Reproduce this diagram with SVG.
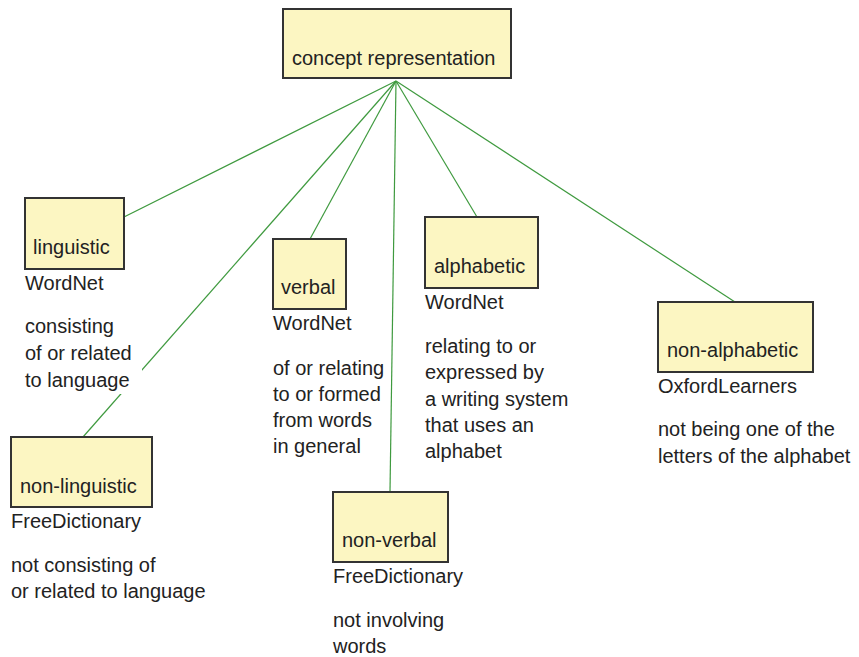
<svg xmlns="http://www.w3.org/2000/svg" width="859" height="657" viewBox="0 0 859 657">
<style>
.box{fill:#fcf6c2;stroke:#333;stroke-width:2}
text{font-family:"Liberation Sans",Arial,sans-serif;font-size:20px;fill:#222}
.edge{stroke:#3f9a3f;stroke-width:1.2;fill:none}
.bg{fill:#fff}
</style>
<rect width="859" height="657" fill="#fff"/>
<g id="connectors">
<line class="edge" x1="396" y1="81" x2="124" y2="217"/>
<line class="edge" x1="396" y1="81" x2="83" y2="437"/>
<line class="edge" x1="396" y1="81" x2="310" y2="239"/>
<line class="edge" x1="396" y1="81" x2="390" y2="492"/>
<line class="edge" x1="396" y1="81" x2="477" y2="217"/>
<line class="edge" x1="396" y1="81" x2="735" y2="302"/>
</g>
<g id="concept">
<rect class="box" x="283" y="9" width="228" height="69"/>
<text x="292" y="65">concept representation</text>
</g>
<g id="linguistic">
<rect class="box" x="25" y="198" width="99" height="71"/>
<text x="33" y="254">linguistic</text>
<rect class="bg" x="22" y="312" width="120" height="82"/>
<text x="25" y="290">WordNet</text>
<text x="25" y="333">consisting</text>
<text x="25" y="360">of or related</text>
<text x="25" y="387">to language</text>
</g>
<g id="non-linguistic">
<rect class="box" x="11" y="437" width="141" height="70"/>
<text x="20" y="493">non-linguistic</text>
<text x="11" y="528">FreeDictionary</text>
<text x="11" y="572">not consisting of</text>
<text x="11" y="598">or related to language</text>
</g>
<g id="verbal">
<rect class="box" x="273" y="239" width="73" height="70"/>
<text x="281" y="294">verbal</text>
<text x="273" y="330">WordNet</text>
<text x="273" y="375">of or relating</text>
<text x="273" y="401">to or formed</text>
<text x="273" y="427">from words</text>
<text x="273" y="453">in general</text>
</g>
<g id="non-verbal">
<rect class="box" x="333" y="492" width="115" height="70"/>
<text x="342" y="547">non-verbal</text>
<text x="333" y="583">FreeDictionary</text>
<text x="333" y="627">not involving</text>
<text x="333" y="653">words</text>
</g>
<g id="alphabetic">
<rect class="box" x="425" y="217" width="113" height="71"/>
<text x="434" y="273">alphabetic</text>
<text x="425" y="309">WordNet</text>
<text x="425" y="353">relating to or</text>
<text x="425" y="379">expressed by</text>
<text x="425" y="406">a writing system</text>
<text x="425" y="432">that uses an</text>
<text x="425" y="458">alphabet</text>
</g>
<g id="non-alphabetic">
<rect class="box" x="658" y="302" width="155" height="70"/>
<text x="667" y="357">non-alphabetic</text>
<text x="658" y="393">OxfordLearners</text>
<text x="658" y="436">not being one of the</text>
<text x="658" y="463">letters of the alphabet</text>
</g>
</svg>
